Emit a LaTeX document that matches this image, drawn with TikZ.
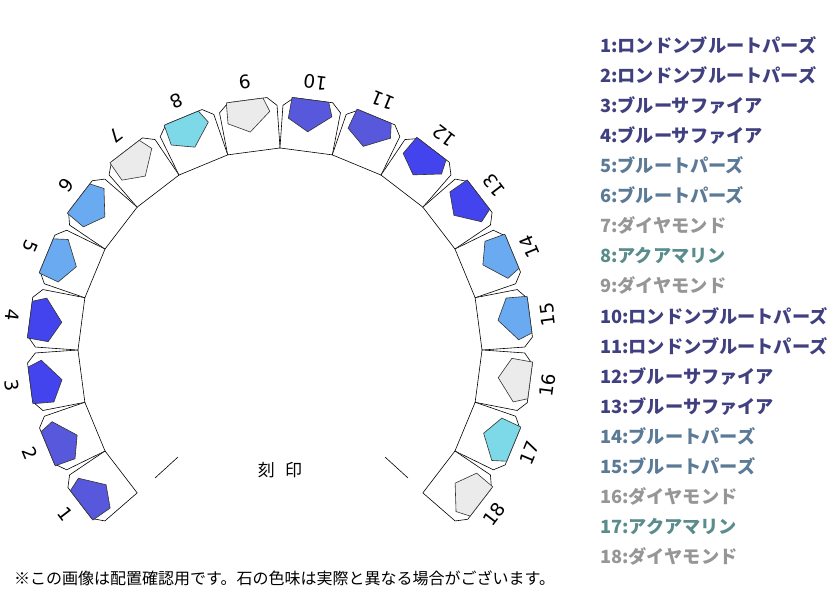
\documentclass[tikz,border=0pt]{standalone}
\usepackage{fontspec}
\setmainfont{Noto Sans CJK JP}
\newfontfamily\numfont{DejaVu Sans}
\usepackage{tikz}
\usetikzlibrary{positioning}
\definecolor{gemlb}{RGB}{88,88,221}
\definecolor{gembs}{RGB}{68,68,238}
\definecolor{gembt}{RGB}{106,170,240}
\definecolor{gemdm}{RGB}{235,235,235}
\definecolor{gemaq}{RGB}{125,216,232}
\definecolor{txtlb}{RGB}{64,64,128}
\definecolor{txtbs}{RGB}{64,64,128}
\definecolor{txtbt}{RGB}{90,122,150}
\definecolor{txtdm}{RGB}{150,150,150}
\definecolor{txtaq}{RGB}{90,140,140}
\newcommand{\namelb}{ロンドンブルートパーズ}
\newcommand{\namebs}{ブルーサファイア}
\newcommand{\namebt}{ブルートパーズ}
\newcommand{\namedm}{ダイヤモンド}
\newcommand{\nameaq}{アクアマリン}

\begin{document}
\begin{tikzpicture}[x=1pt,y=1pt,
    seat/.style={draw=black, line width=0.6pt, fill=white},
    gem/.style={draw=black!80, line width=0.6pt},
    num/.style={font=\numfont\fontsize{18.5}{19}\selectfont, inner sep=0pt},
    legend/.style={anchor=west, font=\bfseries\fontsize{18.2}{19}\selectfont, inner sep=0pt}
]
\useasboundingbox (0,0) rectangle (840,-600);

% ring of settings
\foreach \i/\t in {1/lb,2/lb,3/bs,4/bs,5/bt,6/bt,7/dm,8/aq,9/dm,10/lb,11/lb,12/bs,13/bs,14/bt,15/bt,16/dm,17/aq,18/dm}{
  \pgfmathsetmacro{\a}{232.5-15*\i}
  \begin{scope}[shift={(280,-350)}, rotate=\a-90]
    \draw[seat] (-26.4,200.3) -- (-29,243) -- (-19,252) -- (20,252) -- (29,243) -- (26.4,200.3) -- cycle;
    \draw[gem, fill=gem\t] (-21,252) -- (16,252) -- (21,238) -- (-1,220) -- (-22,231) -- cycle;
    \node[num, rotate=\a+90] (n\i) at (0,270) {\i};
  \end{scope}
}

% engraving area
\node[font=\fontsize{17}{17}\selectfont] (mark) at (280,-470) {刻\hspace{0.6em}印};
\draw[line width=0.6pt] (155,-478) -- (178,-457);
\draw[line width=0.6pt] (385,-457) -- (408,-478);

% legend
\foreach \i/\t in {1/lb,2/lb,3/bs,4/bs,5/bt,6/bt,7/dm,8/aq,9/dm,10/lb,11/lb,12/bs,13/bs,14/bt,15/bt,16/dm,17/aq,18/dm}{
  \node[legend, text=txt\t] (l\i) at (600,-45-30.1*\i+30.1) {\i:\csname name\t\endcsname};
}

\node[anchor=west, inner sep=0pt, font=\fontsize{16}{16}\selectfont] (note) at (14,-578)
  {※この画像は配置確認用です。石の色味は実際と異なる場合がございます。};
\end{tikzpicture}
\end{document}
